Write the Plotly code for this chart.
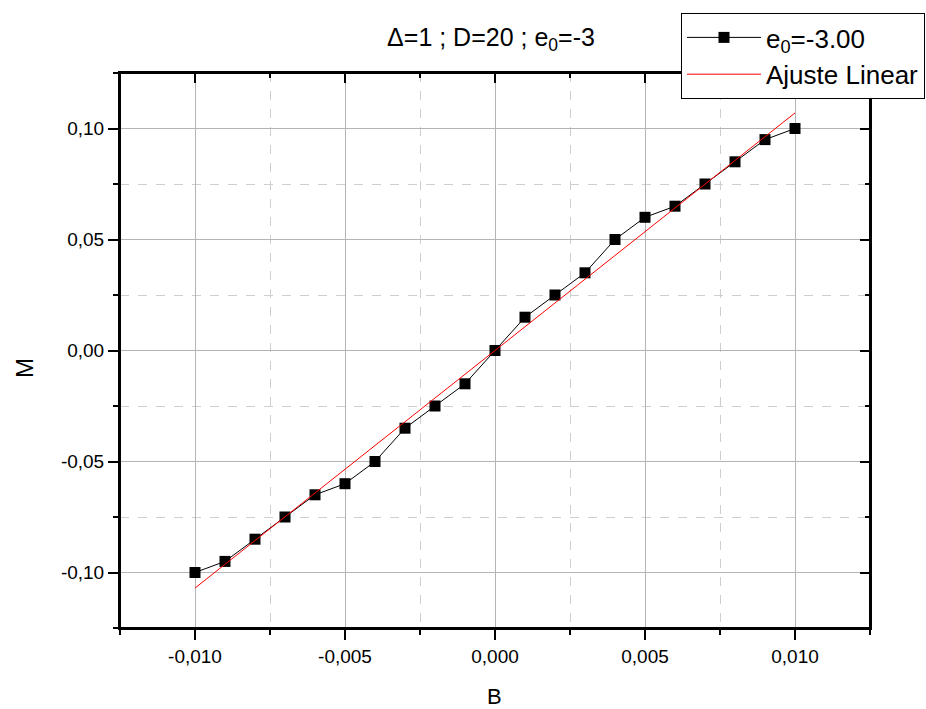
import numpy as np
import plotly.graph_objects as go

B = [-0.010, -0.009, -0.008, -0.007, -0.006, -0.005, -0.004, -0.003, -0.002, -0.001,
     0.000, 0.001, 0.002, 0.003, 0.004, 0.005, 0.006, 0.007, 0.008, 0.009, 0.010]
M = [-0.100, -0.095, -0.085, -0.075, -0.065, -0.060, -0.050, -0.035, -0.025, -0.015,
     0.000, 0.015, 0.025, 0.035, 0.050, 0.060, 0.065, 0.075, 0.085, 0.095, 0.100]

x_tickvals = [-0.010, -0.005, 0.0, 0.005, 0.010]
x_ticktext = ["-0,010", "-0,005", "0,000", "0,005", "0,010"]
y_tickvals = [-0.10, -0.05, 0.0, 0.05, 0.10]
y_ticktext = ["-0,10", "-0,05", "0,00", "0,05", "0,10"]

slope, intercept = np.polyfit(B, M, 1)
fit_x = [B[0], B[-1]]
fit_y = [slope * v + intercept for v in fit_x]

FONT = "Liberation Sans, Arial, sans-serif"
XR = [-0.0125, 0.0125]
YR = [-0.125, 0.125]
W, H = 926, 709
L, R, T, Bm = 120, 56, 73, 81
PW, PH = W - L - R, H - T - Bm

fig = go.Figure()
fig.add_trace(go.Scatter(x=B, y=M, mode="lines+markers", name="e<sub>0</sub>=-3.00",
                         line=dict(color="black", width=1),
                         marker=dict(symbol="square", size=11, color="black")))
fig.add_trace(go.Scatter(x=fit_x, y=fit_y, mode="lines", name="Ajuste Linear",
                         line=dict(color="red", width=1)))
fig.add_trace(go.Scatter(x=[0], y=[0], xaxis="x2", yaxis="y2", mode="markers",
                         marker=dict(opacity=0), showlegend=False, hoverinfo="skip"))

common = dict(showline=True, linecolor="black", linewidth=2, zeroline=False,
              tickcolor="black", tickwidth=2, automargin=False)

fig.update_layout(
    width=W, height=H,
    paper_bgcolor="white", plot_bgcolor="white",
    margin=dict(l=L, r=R, t=T, b=Bm, autoexpand=False),
    font=dict(family=FONT, color="black", size=19),
    title=dict(text="\u0394=1 ; D=20 ; e<sub>0</sub>=-3", x=491 / W, xref="container",
               xanchor="center", y=1 - 37 / H, yref="container", yanchor="middle",
               font=dict(size=25, family=FONT)),
    xaxis=dict(range=XR, tickmode="array", tickvals=x_tickvals, ticktext=x_ticktext,
               ticks="outside", ticklen=10, showgrid=True, gridcolor="#b4b4b4", gridwidth=1,
               minor=dict(tick0=0, dtick=0.0025, ticks="outside", ticklen=5, tickwidth=2,
                          tickcolor="black", showgrid=True, gridcolor="#cfcfcf",
                          griddash="dash", gridwidth=1),
               tickfont=dict(size=19), **common),
    yaxis=dict(range=YR, tickmode="array", tickvals=y_tickvals, ticktext=y_ticktext,
               ticks="outside", ticklen=10, showgrid=True, gridcolor="#b4b4b4", gridwidth=1,
               minor=dict(tick0=0, dtick=0.025, ticks="outside", ticklen=5, tickwidth=2,
                          tickcolor="black", showgrid=True, gridcolor="#cfcfcf",
                          griddash="dash", gridwidth=1),
               tickfont=dict(size=19), **common),
    xaxis2=dict(range=XR, overlaying="x", side="top", anchor="y2", tickmode="array",
                tickvals=x_tickvals, ticks="inside", ticklen=10, showticklabels=False,
                showgrid=False,
                minor=dict(tick0=0, dtick=0.0025, ticks="inside", ticklen=5, tickwidth=2,
                           tickcolor="black", showgrid=False),
                **common),
    yaxis2=dict(range=YR, overlaying="y", side="right", anchor="x2", tickmode="array",
                tickvals=y_tickvals, ticks="inside", ticklen=10, showticklabels=False,
                showgrid=False,
                minor=dict(tick0=0, dtick=0.025, ticks="inside", ticklen=5, tickwidth=2,
                           tickcolor="black", showgrid=False),
                **common),
    legend=dict(x=(681 - L) / PW, xanchor="left", y=1 + (T - 13) / PH, yanchor="top",
                bgcolor="white", bordercolor="black", borderwidth=1,
                font=dict(size=26, family=FONT), itemwidth=74, tracegroupgap=0),
    showlegend=True,
    shapes=[dict(type="rect", xref="paper", yref="paper", x0=0, x1=1, y0=0, y1=1,
                 line=dict(color="black", width=2), fillcolor="rgba(0,0,0,0)",
                 layer="above")],
    annotations=[
        dict(text="B", xref="paper", yref="paper", x=(494 - L) / PW, y=-(696 - (H - Bm)) / PH,
             xanchor="center", yanchor="middle", showarrow=False, font=dict(size=22)),
        dict(text="M", xref="paper", yref="paper", x=-(L - 24) / PW, y=1 - (368 - T) / PH,
             xanchor="center", yanchor="middle", showarrow=False, textangle=-90,
             font=dict(size=24)),
    ],
)

fig.write_html("out.html",
               config={"displayModeBar": False},
               post_script="document.body.style.margin='0';document.body.style.padding='0';"
                           "document.body.style.overflow='hidden';")
